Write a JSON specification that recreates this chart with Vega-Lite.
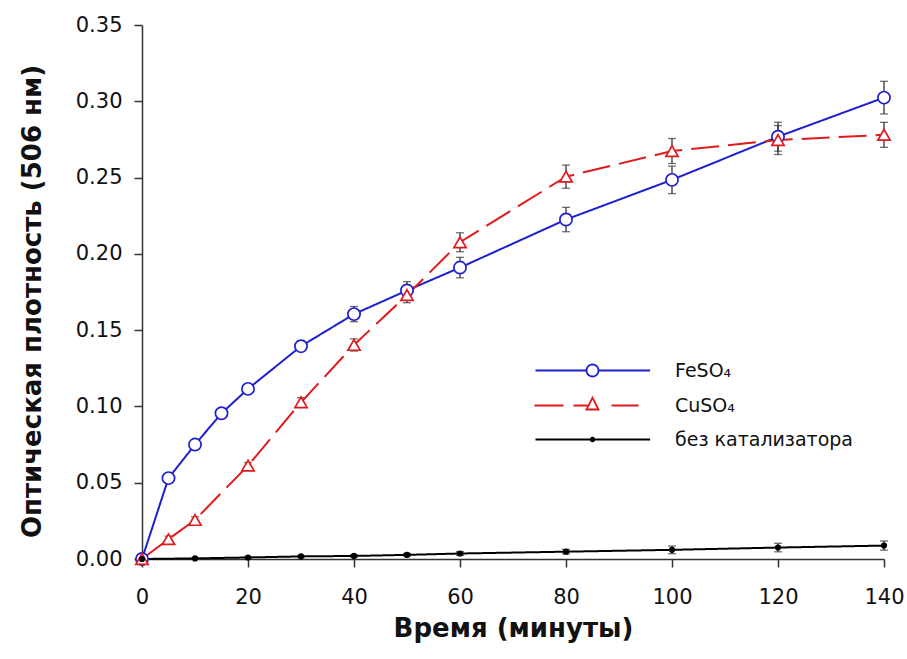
{
  "$schema": "https://vega.github.io/schema/vega-lite/v6.json",
  "width": 742,
  "height": 534,
  "autosize": {"type": "none"},
  "padding": {"left": 142, "top": 25, "right": 23, "bottom": 100},
  "background": "white",
  "config": {
    "view": {"stroke": null},
    "font": "DejaVu Sans",
    "axis": {
      "grid": false,
      "labelFlush": false,
      "domainColor": "#333",
      "domainWidth": 1.5,
      "tickColor": "#333",
      "tickWidth": 1.5,
      "tickSize": 8,
      "labelFont": "DejaVu Sans",
      "labelFontSize": 21,
      "labelColor": "#111",
      "titleFont": "DejaVu Sans",
      "titleFontSize": 26,
      "titleFontWeight": "bold",
      "titleColor": "#111"
    },
    "legend": {
      "orient": "none",
      "legendX": 441,
      "padding": 0,
      "title": null,
      "symbolSize": 144,
      "symbolStrokeWidth": 1.8,
      "symbolDash": [1, 0],
      "labelOffset": 73,
      "labelLimit": 400,
      "labelFont": "DejaVu Sans",
      "labelFontSize": 19,
      "labelColor": "#111"
    }
  },
  "data": {
    "values": [
      {"s": "FeSO₄", "t": 0, "v": 0, "e": 0.001},
      {"s": "FeSO₄", "t": 5, "v": 0.053, "e": 0.002},
      {"s": "FeSO₄", "t": 10, "v": 0.075, "e": 0.002},
      {"s": "FeSO₄", "t": 15, "v": 0.0955, "e": 0.002},
      {"s": "FeSO₄", "t": 20, "v": 0.1115, "e": 0.002},
      {"s": "FeSO₄", "t": 30, "v": 0.1395, "e": 0.0035},
      {"s": "FeSO₄", "t": 40, "v": 0.1605, "e": 0.005},
      {"s": "FeSO₄", "t": 50, "v": 0.176, "e": 0.0058},
      {"s": "FeSO₄", "t": 60, "v": 0.191, "e": 0.0067},
      {"s": "FeSO₄", "t": 80, "v": 0.2225, "e": 0.008},
      {"s": "FeSO₄", "t": 100, "v": 0.2485, "e": 0.009},
      {"s": "FeSO₄", "t": 120, "v": 0.2768, "e": 0.0095},
      {"s": "FeSO₄", "t": 140, "v": 0.3024, "e": 0.0107},
      {"s": "CuSO₄", "t": 0, "v": 0, "e": 0.001},
      {"s": "CuSO₄", "t": 5, "v": 0.013, "e": 0.002},
      {"s": "CuSO₄", "t": 10, "v": 0.0256, "e": 0.002},
      {"s": "CuSO₄", "t": 20, "v": 0.0612, "e": 0.002},
      {"s": "CuSO₄", "t": 30, "v": 0.1027, "e": 0.003},
      {"s": "CuSO₄", "t": 40, "v": 0.1403, "e": 0.004},
      {"s": "CuSO₄", "t": 50, "v": 0.173, "e": 0.005},
      {"s": "CuSO₄", "t": 60, "v": 0.2076, "e": 0.0062},
      {"s": "CuSO₄", "t": 80, "v": 0.2506, "e": 0.0076},
      {"s": "CuSO₄", "t": 100, "v": 0.2674, "e": 0.0082},
      {"s": "CuSO₄", "t": 120, "v": 0.2746, "e": 0.0095},
      {"s": "CuSO₄", "t": 140, "v": 0.278, "e": 0.0082},
      {"s": "без катализатора", "t": 0, "v": 0, "e": 0},
      {"s": "без катализатора", "t": 10, "v": 0.0004, "e": 0.0003},
      {"s": "без катализатора", "t": 20, "v": 0.001, "e": 0.0004},
      {"s": "без катализатора", "t": 30, "v": 0.0017, "e": 0.0006},
      {"s": "без катализатора", "t": 40, "v": 0.002, "e": 0.0008},
      {"s": "без катализатора", "t": 50, "v": 0.0027, "e": 0.001},
      {"s": "без катализатора", "t": 60, "v": 0.0036, "e": 0.0012},
      {"s": "без катализатора", "t": 80, "v": 0.0048, "e": 0.0015},
      {"s": "без катализатора", "t": 100, "v": 0.006, "e": 0.0025},
      {"s": "без катализатора", "t": 120, "v": 0.0075, "e": 0.0028},
      {"s": "без катализатора", "t": 140, "v": 0.0088, "e": 0.003}
    ]
  },
  "encoding": {
    "x": {
      "field": "t",
      "type": "quantitative",
      "scale": {"domain": [0, 140], "nice": false},
      "axis": {"values": [0, 20, 40, 60, 80, 100, 120, 140], "title": "Время (минуты)", "labelPadding": 19, "titlePadding": 8}
    },
    "y": {
      "field": "v",
      "type": "quantitative",
      "scale": {"domain": [0, 0.35], "nice": false, "zero": false},
      "axis": {"values": [0, 0.05, 0.1, 0.15, 0.2, 0.25, 0.3, 0.35], "format": ".2f", "title": "Оптическая плотность (506 нм)", "labelPadding": 12, "titlePadding": 30, "titleY": 276}
    }
  },
  "resolve": {"scale": {"opacity": "independent"}, "legend": {"opacity": "independent"}},
  "layer": [
    {
      "mark": {"type": "errorbar", "ticks": true, "size": 8, "thickness": 1.3, "color": "#333"},
      "encoding": {"yError": {"field": "e"}}
    },
    {
      "transform": [{"filter": "datum.s !== 'CuSO₄'"}],
      "mark": {"type": "line"},
      "encoding": {
        "stroke": {
          "field": "s",
          "type": "nominal",
          "scale": {"domain": ["FeSO₄", "CuSO₄", "без катализатора"], "range": ["#1f1fd0", "#e0191b", "#000000"]},
          "legend": null
        },
        "strokeDash": {
          "field": "s",
          "type": "nominal",
          "scale": {"domain": ["FeSO₄", "CuSO₄", "без катализатора"], "range": [[1, 0], [28, 9], [1, 0]]},
          "legend": null
        },
        "opacity": {
          "datum": "FeSO₄",
          "type": "ordinal",
          "scale": {"domain": ["FeSO₄"], "range": [1, 1]},
          "legend": {
            "legendY": 336,
            "symbolType": "M-9.5,0H-1M1,0H9.6M-1,0A1,1,0,1,1,1,0A1,1,0,1,1,-1,0Z",
            "symbolStrokeColor": "#1f1fd0",
            "symbolFillColor": "#ffffff"
          }
        },
        "strokeWidth": {
          "datum": "без катализатора",
          "type": "ordinal",
          "scale": {"domain": ["без катализатора"], "range": [2, 2]},
          "legend": {
            "legendY": 405,
            "symbolType": "M-9.5,0H9.6M-0.3,0A0.3,0.3,0,1,1,0.3,0A0.3,0.3,0,1,1,-0.3,0Z",
            "symbolStrokeColor": "#000000",
            "symbolFillColor": "#000000"
          }
        }
      }
    },
    {
      "transform": [{"filter": "datum.s === 'CuSO₄'"}],
      "mark": {"type": "line", "strokeWidth": 2},
      "encoding": {
        "stroke": {"field": "s", "type": "nominal", "legend": null},
        "strokeDash": {"field": "s", "type": "nominal", "legend": null},
        "opacity": {
          "datum": "CuSO₄",
          "type": "ordinal",
          "scale": {"domain": ["CuSO₄"], "range": [1, 1]},
          "legend": {
            "legendY": 371,
            "symbolType": "M-9.67,0H-4.83M-3.17,0H-0.66M0,-1.3L1,0.67L-1,0.67ZM3.17,0H7.67",
            "symbolStrokeColor": "#e0191b",
            "symbolFillColor": "#ffffff"
          }
        }
      }
    },
    {
      "mark": {"type": "point", "filled": true, "strokeWidth": 1.7, "opacity": 1},
      "encoding": {
        "stroke": {"field": "s", "type": "nominal", "legend": null},
        "fill": {
          "field": "s",
          "type": "nominal",
          "scale": {"domain": ["FeSO₄", "CuSO₄", "без катализатора"], "range": ["#ffffff", "#ffffff", "#000000"]},
          "legend": null
        },
        "shape": {
          "field": "s",
          "type": "nominal",
          "scale": {"domain": ["FeSO₄", "CuSO₄", "без катализатора"], "range": ["circle", "triangle-up", "circle"]},
          "legend": null
        },
        "size": {
          "condition": {"test": "datum.s === 'без катализатора'", "value": 20},
          "value": 150
        }
      }
    }
  ]
}
